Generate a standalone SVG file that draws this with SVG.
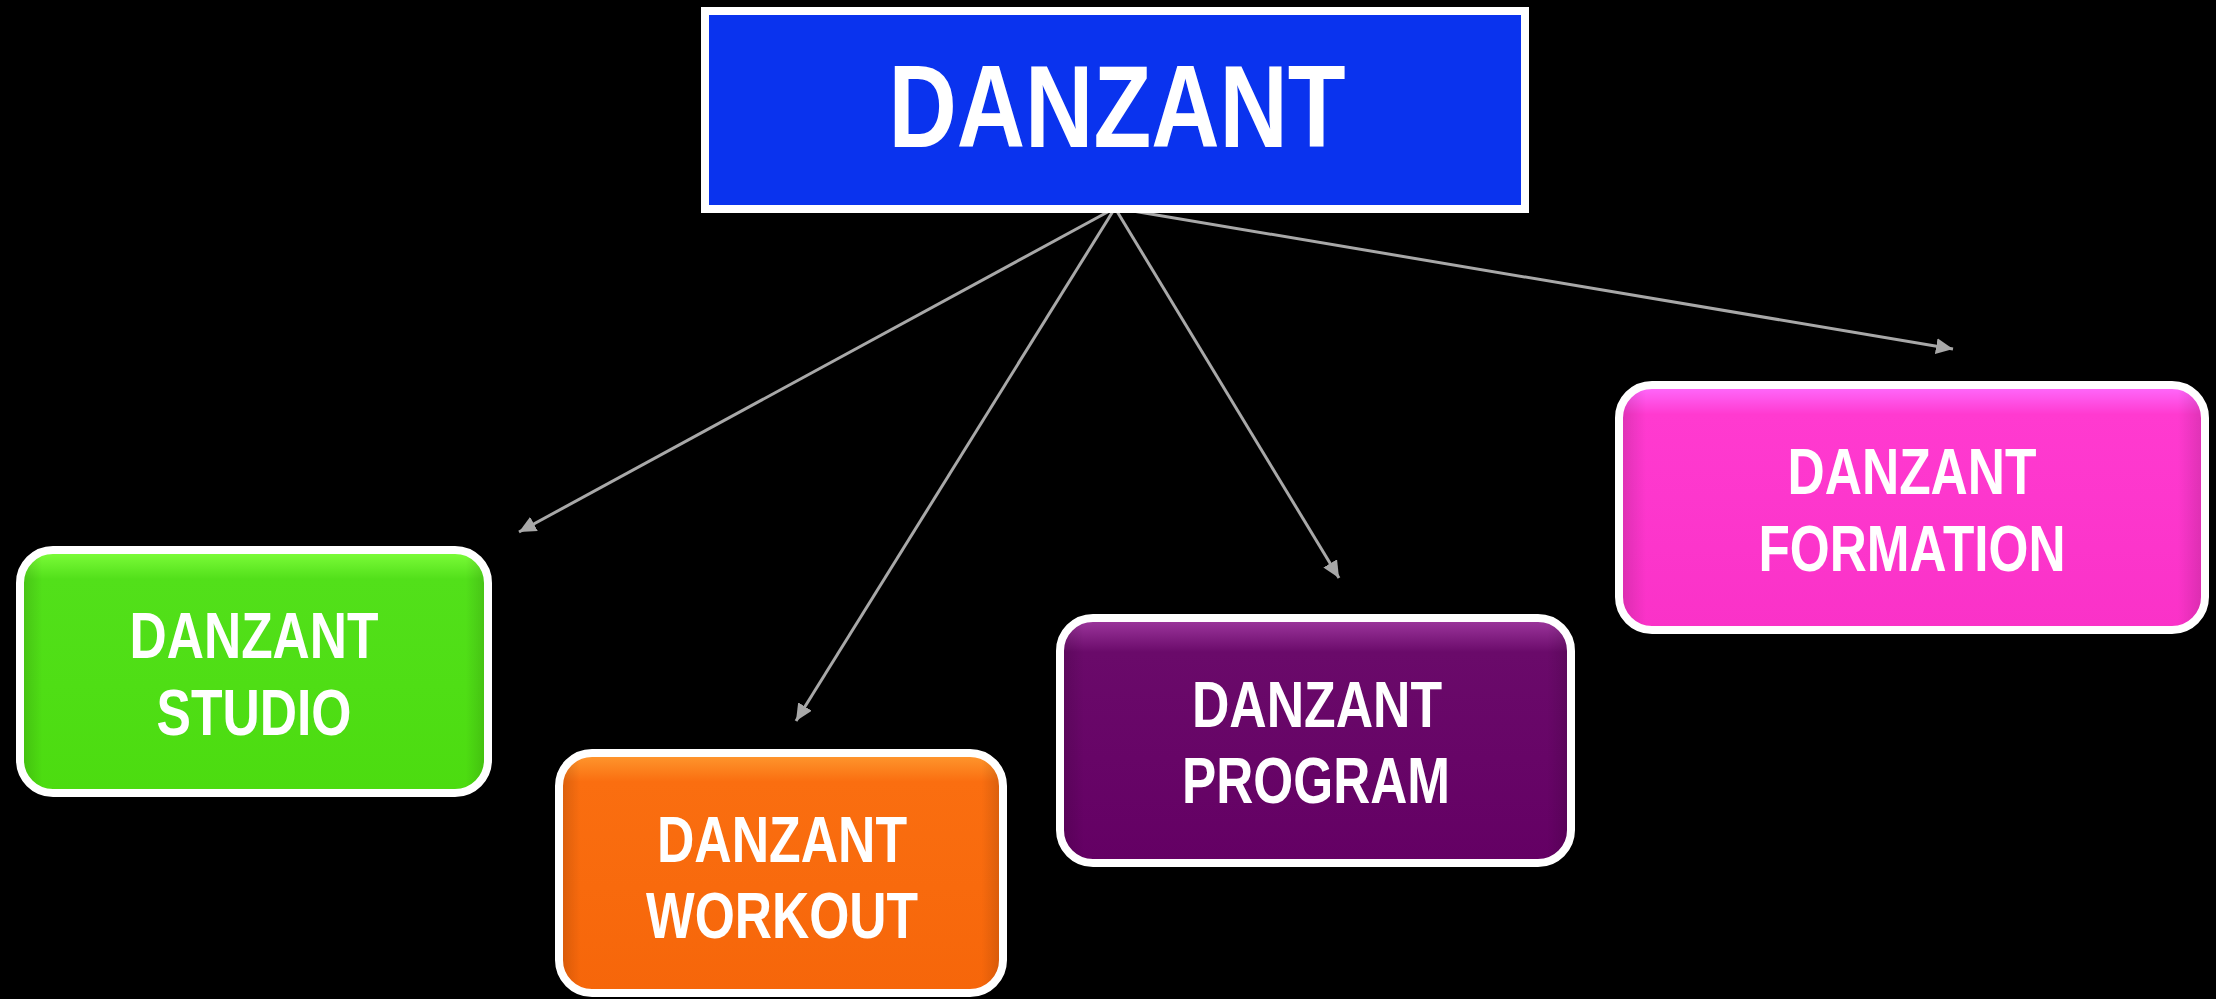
<svg xmlns="http://www.w3.org/2000/svg" width="2216" height="999" viewBox="0 0 2216 999">
  <defs>
    <style>
      .lbl { font-family: "Liberation Sans", Arial, sans-serif; font-weight: bold; fill: #ffffff; text-anchor: middle; }
      .box { stroke: #ffffff; stroke-width: 8; }
      .conn { stroke: #a8a8a8; stroke-width: 3; fill: none; marker-end: url(#arrow); }
    </style>
    <marker id="arrow" markerUnits="userSpaceOnUse" markerWidth="18" markerHeight="16" refX="17" refY="8" orient="auto">
      <path d="M0,0 L17,8 L0,16 Z" fill="#a8a8a8"/>
    </marker>
    <linearGradient id="gGreen" x1="0" y1="0" x2="0" y2="1">
      <stop offset="0" stop-color="#80ff3c"/>
      <stop offset="0.12" stop-color="#52e01a"/>
      <stop offset="1" stop-color="#4cdc10"/>
    </linearGradient>
    <linearGradient id="gOrange" x1="0" y1="0" x2="0" y2="1">
      <stop offset="0" stop-color="#ff9a30"/>
      <stop offset="0.12" stop-color="#fa6e10"/>
      <stop offset="1" stop-color="#f6660a"/>
    </linearGradient>
    <linearGradient id="gPurple" x1="0" y1="0" x2="0" y2="1">
      <stop offset="0" stop-color="#a03aa0"/>
      <stop offset="0.14" stop-color="#6a0a6a"/>
      <stop offset="1" stop-color="#640064"/>
    </linearGradient>
    <linearGradient id="gPink" x1="0" y1="0" x2="0" y2="1">
      <stop offset="0" stop-color="#ff6cff"/>
      <stop offset="0.12" stop-color="#ff3ad0"/>
      <stop offset="1" stop-color="#fa32c8"/>
    </linearGradient>
    <linearGradient id="edge" x1="0" y1="0" x2="1" y2="0">
      <stop offset="0" stop-color="#000" stop-opacity="0.12"/>
      <stop offset="0.04" stop-color="#000" stop-opacity="0"/>
      <stop offset="0.96" stop-color="#000" stop-opacity="0"/>
      <stop offset="1" stop-color="#000" stop-opacity="0.12"/>
    </linearGradient>
  </defs>
  <rect x="0" y="0" width="2216" height="999" fill="#000000"/>

  <g id="connectors">
    <line class="conn" x1="1115" y1="208" x2="519" y2="532"/>
    <line class="conn" x1="1115" y1="208" x2="796" y2="721"/>
    <line class="conn" x1="1115" y1="208" x2="1339" y2="578"/>
    <line class="conn" x1="1115" y1="208" x2="1953" y2="349"/>
  </g>

  <g id="node-danzant">
    <rect x="705" y="11" width="820" height="198" fill="#0a33ee" stroke="#ffffff" stroke-width="8"/>
    <text class="lbl" x="1117" y="147" font-size="117" textLength="457" lengthAdjust="spacingAndGlyphs">DANZANT</text>
  </g>

  <g id="node-studio">
    <rect class="box" x="20" y="550" width="468" height="243" rx="33" fill="url(#gGreen)"/>
    <rect x="24" y="554" width="460" height="235" rx="29" fill="url(#edge)"/>
    <text class="lbl" x="254" y="658" font-size="64" textLength="249" lengthAdjust="spacingAndGlyphs">DANZANT</text>
    <text class="lbl" x="254" y="735" font-size="64" textLength="195" lengthAdjust="spacingAndGlyphs">STUDIO</text>
  </g>

  <g id="node-workout">
    <rect class="box" x="559" y="753" width="444" height="240" rx="33" fill="url(#gOrange)"/>
    <rect x="563" y="757" width="436" height="232" rx="29" fill="url(#edge)"/>
    <text class="lbl" x="782" y="862" font-size="64" textLength="250" lengthAdjust="spacingAndGlyphs">DANZANT</text>
    <text class="lbl" x="782" y="938" font-size="64" textLength="272" lengthAdjust="spacingAndGlyphs">WORKOUT</text>
  </g>

  <g id="node-program">
    <rect class="box" x="1060" y="618" width="511" height="245" rx="33" fill="url(#gPurple)"/>
    <rect x="1064" y="622" width="503" height="237" rx="29" fill="url(#edge)"/>
    <text class="lbl" x="1317" y="727" font-size="64" textLength="250" lengthAdjust="spacingAndGlyphs">DANZANT</text>
    <text class="lbl" x="1316" y="803" font-size="64" textLength="268" lengthAdjust="spacingAndGlyphs">PROGRAM</text>
  </g>

  <g id="node-formation">
    <rect class="box" x="1619" y="385" width="586" height="245" rx="33" fill="url(#gPink)"/>
    <rect x="1623" y="389" width="578" height="237" rx="29" fill="url(#edge)"/>
    <text class="lbl" x="1912" y="494" font-size="64" textLength="249" lengthAdjust="spacingAndGlyphs">DANZANT</text>
    <text class="lbl" x="1912" y="571" font-size="64" textLength="307" lengthAdjust="spacingAndGlyphs">FORMATION</text>
  </g>
</svg>
